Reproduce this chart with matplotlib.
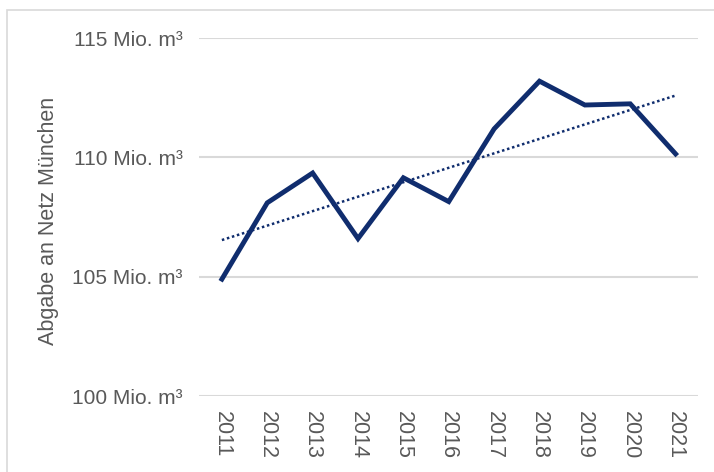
import numpy as np
import matplotlib
matplotlib.use('Agg')
import matplotlib.pyplot as plt
from matplotlib.patches import Rectangle

plt.rcParams['font.family'] = ['Liberation Sans', 'DejaVu Sans']

years = [2011, 2012, 2013, 2014, 2015, 2016, 2017, 2018, 2019, 2020, 2021]
abgabe = [104.9, 108.1, 109.35, 106.6, 109.15, 108.15, 111.2, 113.2, 112.2, 112.25, 110.15]
yticks = [100, 105, 110, 115]
ytick_labels = ['100 Mio. m³', '105 Mio. m³', '110 Mio. m³', '115 Mio. m³']

navy = '#102d6e'
grey_text = '#595959'

fig = plt.figure(figsize=(7.14, 4.72), dpi=100)
ax = fig.add_axes([0.279, 0.161, 0.699, 0.758])

ax.plot(years, abgabe, color=navy, lw=3.5, solid_joinstyle='miter', zorder=3)

# linear trendline like the spreadsheet one
k, d = np.polyfit(years, abgabe, 1)
trend = [k * x + d for x in years]
ax.plot([years[0], years[-1]], [trend[0], trend[-1]], color=navy, lw=1.8,
        linestyle=(0, (1, 1.1)), zorder=2)

ax.set_xlim(2010.5, 2021.5)
ax.set_ylim(100, 115)
ax.set_yticks(yticks)
ax.set_yticklabels(ytick_labels)
ax.set_xticks(years)
ax.set_xticklabels([str(y) for y in years], rotation=-90)
ax.grid(axis='y', color='#d9d9d9', lw=1.5)
ax.set_axisbelow(True)
for s in ax.spines.values():
    s.set_visible(False)
ax.tick_params(length=0, colors=grey_text)
ax.tick_params(axis='y', pad=12, labelsize=15)
ax.tick_params(axis='x', pad=11, labelsize=15.5)
ax.set_ylabel('Abgabe an Netz München', fontsize=15.5, color=grey_text)
ax.yaxis.set_label_coords(-0.28, 0.49)

fig.patches.append(Rectangle((7 / 714, -0.01), 1.0, 1 - 10 / 472 + 0.01,
                             transform=fig.transFigure, fill=False,
                             edgecolor='#d9d9d9', lw=1.2))

fig.savefig('out.png', dpi=100)
